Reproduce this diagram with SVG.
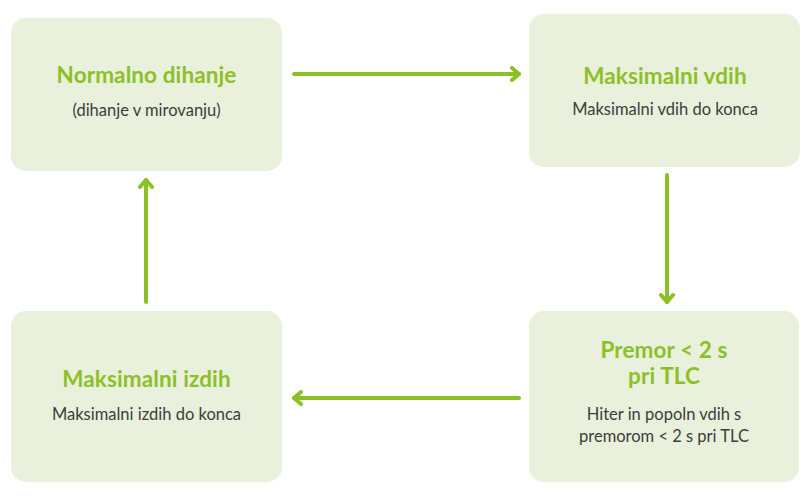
<svg xmlns="http://www.w3.org/2000/svg" width="811" height="500" viewBox="0 0 811 500">
<style>
.box{fill:#e9f1dc}
.t{font-family:Lato,"Liberation Sans",sans-serif;font-weight:bold;font-size:22.5px;letter-spacing:0.1px;fill:#8cc027;text-anchor:middle}
.s{font-family:Lato,"Liberation Sans",sans-serif;font-size:16.5px;fill:#3d3d3d;text-anchor:middle}
.c{stroke:#8cc027;stroke-width:4;fill:none;stroke-linecap:round}
</style>
<defs>
<marker id="ah" viewBox="0 0 12 16" refX="10" refY="8" markerWidth="12" markerHeight="16" markerUnits="userSpaceOnUse" orient="auto">
<path d="M3,2 L10,8 L3,14" fill="none" stroke="#8cc027" stroke-width="4" stroke-linecap="round" stroke-linejoin="round"/>
</marker>
</defs>
<rect width="811" height="500" fill="#ffffff"/>
<g id="node-normalno">
<rect class="box" x="11" y="18" width="271" height="153" rx="15"/>
<text class="t" x="146.5" y="83">Normalno dihanje</text>
<text class="s" x="146.5" y="116">(dihanje v mirovanju)</text>
</g>
<g id="node-vdih">
<rect class="box" x="529" y="14" width="271" height="153" rx="15"/>
<text class="t" x="665" y="84">Maksimalni vdih</text>
<text class="s" x="665" y="115">Maksimalni vdih do konca</text>
</g>
<g id="node-premor">
<rect class="box" x="529" y="311" width="270" height="171" rx="15"/>
<text class="t" x="664" y="358">Premor &lt; 2 s</text>
<text class="t" x="664" y="384">pri TLC</text>
<text class="s" x="664" y="420">Hiter in popoln vdih s</text>
<text class="s" x="664" y="442">premorom &lt; 2 s pri TLC</text>
</g>
<g id="node-izdih">
<rect class="box" x="11" y="311" width="271" height="171" rx="15"/>
<text class="t" x="146.5" y="387">Maksimalni izdih</text>
<text class="s" x="146.5" y="420">Maksimalni izdih do konca</text>
</g>
<g id="connectors">
<line class="c" x1="294" y1="74" x2="519" y2="74" marker-end="url(#ah)"/>
<line class="c" x1="667" y1="175" x2="667" y2="302" marker-end="url(#ah)"/>
<line class="c" x1="519" y1="398" x2="294" y2="398" marker-end="url(#ah)"/>
<line class="c" x1="146" y1="302" x2="146" y2="180" marker-end="url(#ah)"/>
</g>
</svg>
